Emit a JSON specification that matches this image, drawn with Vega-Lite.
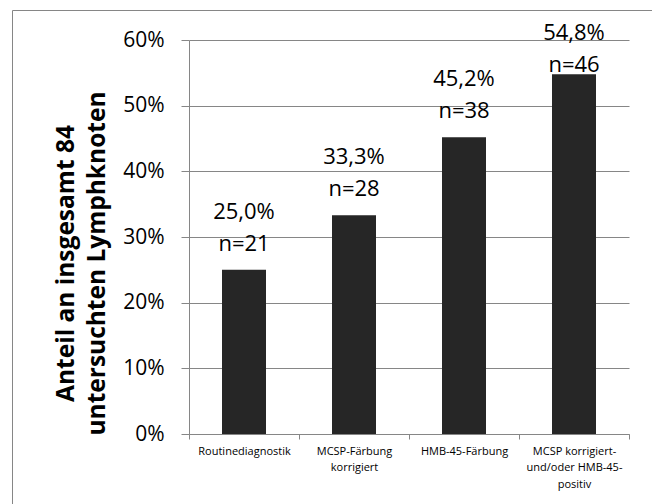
{
  "$schema": "https://vega.github.io/schema/vega-lite/v6.json",
  "width": 640,
  "height": 494,
  "autosize": {"type": "none"},
  "padding": {"left": 12, "top": 10, "right": 0, "bottom": 0},
  "background": "white",
  "data": {
    "values": [
      {"method": "Routinediagnostik", "share": 0.25, "n": 21},
      {"method": "MCSP-Färbung\nkorrigiert", "share": 0.333, "n": 28},
      {"method": "HMB-45-Färbung", "share": 0.452, "n": 38},
      {"method": "MCSP korrigiert-\nund/oder HMB-45-\npositiv", "share": 0.548, "n": 46}
    ]
  },
  "transform": [
    {"calculate": "'n=' + datum.n", "as": "nLabel"},
    {"calculate": "min(datum.share, 0.522)", "as": "labelPos"}
  ],
  "encoding": {
    "x": {
      "field": "method",
      "type": "nominal",
      "sort": null,
      "scale": {"range": [177, 617], "paddingInner": 0, "paddingOuter": 0},
      "axis": {
        "title": null,
        "labelExpr": "split(datum.label, '\\n')",
        "offset": -70,
        "tickBand": "extent",
        "grid": false,
        "domainColor": "#868686",
        "tickColor": "#868686",
        "tickSize": 5,
        "labelAngle": 0,
        "labelFont": "Open Sans",
        "labelFontSize": 11,
        "labelColor": "#000000",
        "labelPadding": 6,
        "labelLineHeight": 16.5
      }
    }
  },
  "layer": [
    {
      "mark": {"type": "bar", "color": "#262626", "width": {"band": 0.4}},
      "encoding": {
        "y": {
          "field": "share",
          "type": "quantitative",
          "scale": {"domain": [0, 0.6], "range": [424, 30], "nice": false},
          "axis": {
            "values": [0, 0.1, 0.2, 0.3, 0.4, 0.5, 0.6],
            "format": ".0%",
            "offset": -177,
            "grid": true,
            "gridColor": "#868686",
            "domainColor": "#868686",
            "tickColor": "#868686",
            "tickSize": 8,
            "labelFont": "Open Sans",
            "labelFontSize": 21,
            "labelColor": "#000000",
            "labelPadding": 17,
            "title": ["Anteil an insgesamt 84", "untersuchten Lymphknoten"],
            "titleFont": "Open Sans",
            "titleFontSize": 24.5,
            "titleFontWeight": "bold",
            "titleColor": "#000000",
            "titleLineHeight": 31,
            "titleAngle": -90,
            "titleAlign": "center",
            "titleBaseline": "alphabetic",
            "titleX": -116,
            "titleY": 253
          }
        }
      }
    },
    {
      "mark": {"type": "text", "font": "Open Sans", "fontSize": 22, "color": "#000000", "align": "center", "baseline": "alphabetic", "dy": -19},
      "encoding": {
        "y": {"field": "labelPos", "type": "quantitative"},
        "text": {"field": "nLabel"}
      }
    },
    {
      "mark": {"type": "text", "font": "Open Sans", "fontSize": 22, "color": "#000000", "align": "center", "baseline": "alphabetic", "dy": -51},
      "encoding": {
        "y": {"field": "labelPos", "type": "quantitative"},
        "text": {"field": "share", "type": "quantitative", "format": ".1%"}
      }
    }
  ],
  "config": {
    "locale": {
      "number": {"decimal": ",", "thousands": ".", "grouping": [3], "currency": ["", " €"]}
    },
    "view": {"stroke": "#868686", "strokeWidth": 1}
  }
}
